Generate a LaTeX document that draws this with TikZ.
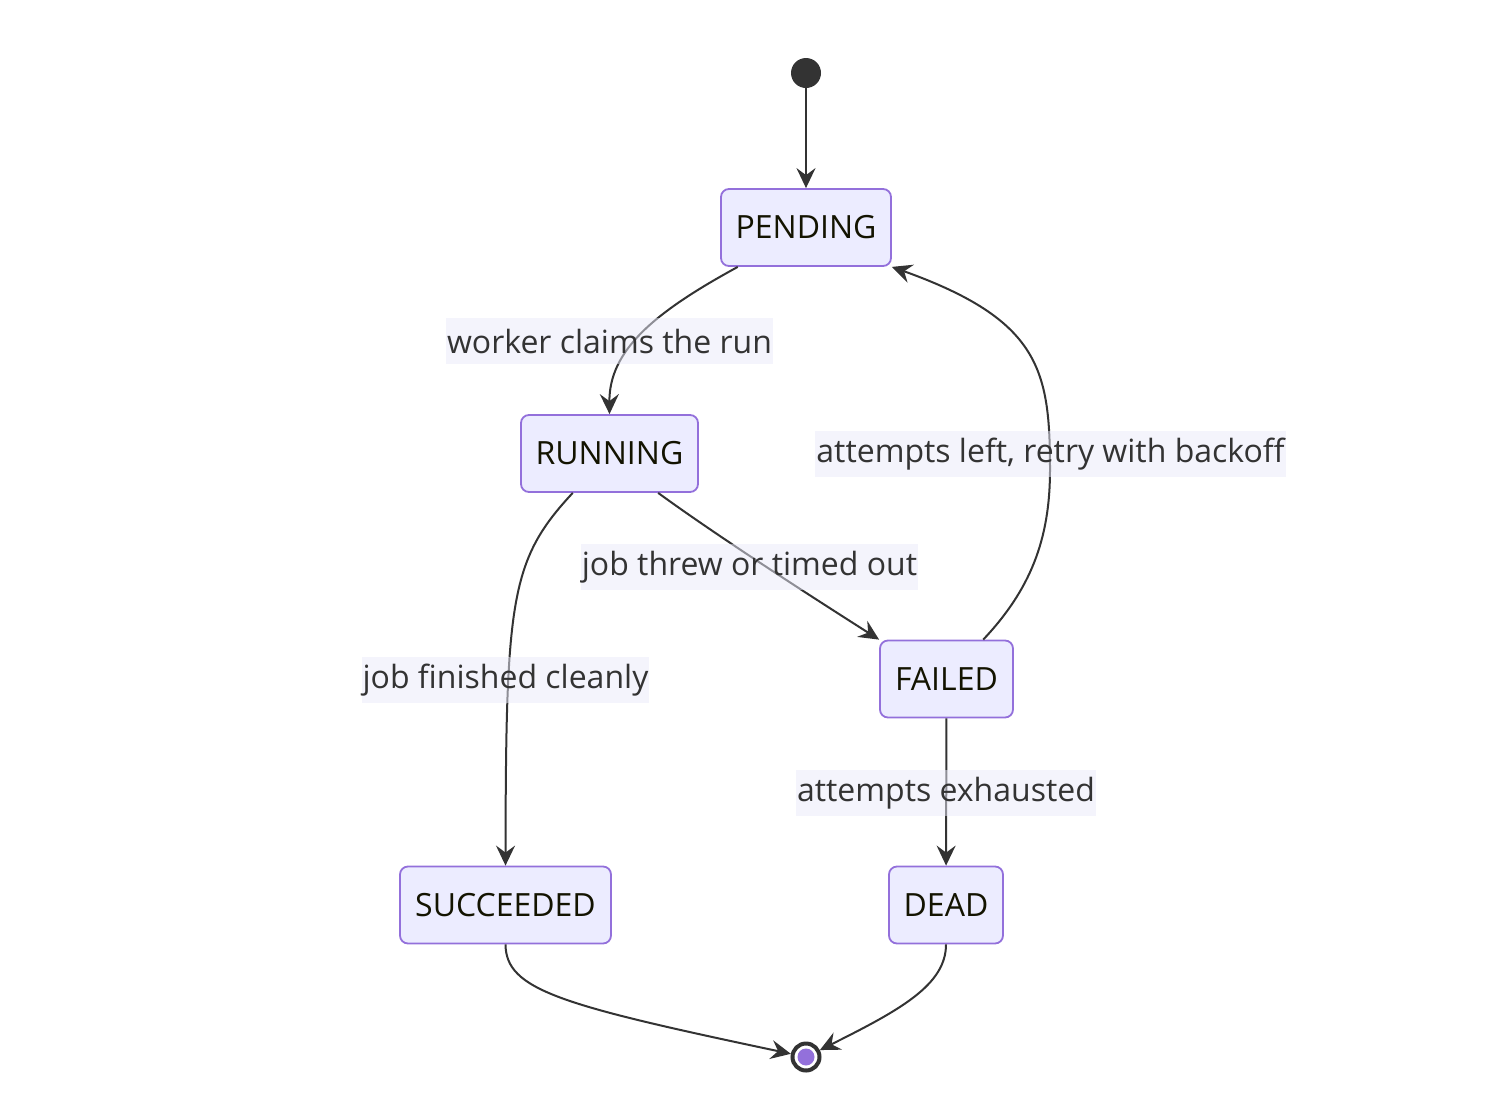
\documentclass[tikz,border=0pt]{standalone}
\usepackage{fontspec}
\setmainfont{Open Sans}
\usetikzlibrary{arrows.meta}
\definecolor{boxfill}{HTML}{ECECFF}
\definecolor{boxline}{HTML}{9370DB}
\definecolor{edgecol}{HTML}{333333}
\definecolor{labelbg}{HTML}{E9E9F9}
\definecolor{statetext}{HTML}{131300}
\begin{document}
\begin{tikzpicture}[x=0.5pt, y=-0.5pt]
    \tikzstyle{state}=[draw=boxline, fill=boxfill, line width=0.9pt, rounded corners=4pt, minimum height=38.5pt, inner xsep=7pt, text=statetext, font=\fontsize{16}{19}\selectfont];
    \tikzstyle{edgelabel}=[fill=labelbg, fill opacity=0.5, text opacity=1, text=edgecol, minimum height=23pt, inner xsep=0.5pt, font=\fontsize{16}{19}\selectfont];
    \tikzstyle{trans}=[draw=edgecol, line width=1pt, -{Stealth[length=10pt, width=9.5pt, inset=3.5pt]}];
    \useasboundingbox (0,0) rectangle (1490,1110);
    % states
    \node[circle, fill=edgecol, minimum size=15pt, inner sep=0pt] (start) at (806,73) {};
    \node[state, minimum width=85pt] (pending) at (806,227.5) {PENDING};
    \node[state, minimum width=88.5pt] (running) at (609.5,453.5) {RUNNING};
    \node[state, minimum width=66.5pt] (failed) at (946.5,679) {FAILED};
    \node[state, minimum width=105.5pt] (succeeded) at (505.5,905) {SUCCEEDED};
    \node[state, minimum width=57pt] (dead) at (946,905) {DEAD};
    \node[circle, draw=edgecol, line width=2pt, fill=white, minimum size=13.5pt, inner sep=0pt] (finish) at (806,1057) {};
    \node[circle, fill=boxline, minimum size=8.5pt, inner sep=0pt] (finishdot) at (finish) {};
    % transitions
    \draw[trans] (start) -- (pending);
    \draw[trans] (pending.210) .. controls (655,312) and (609,350) .. (running.north);
    \draw[trans] (running.227) .. controls (510,560) and (506,600) .. (succeeded.north);
    \draw[trans] (running.-39) .. controls (720,538) and (820,602) .. (failed.north west);
    \draw[trans] (failed.47) .. controls (1030,590) and (1050,540) .. (1050,470)
        .. controls (1050,370) and (1040,320) .. (pending.south east);
    \draw[trans] (failed) -- (dead);
    \draw[trans] (succeeded.south) .. controls (506,990) and (560,1005) .. (finish);
    \draw[trans] (dead.south) .. controls (946,985) and (900,1010) .. (finish);
    % labels
    \node[edgelabel] (lclaim) at (609.5,341) {worker claims the run};
    \node[edgelabel] (lretry) at (1050.5,454) {attempts left, retry with backoff};
    \node[edgelabel] (lthrew) at (749.5,567) {job threw or timed out};
    \node[edgelabel] (lclean) at (505.5,680) {job finished cleanly};
    \node[edgelabel] (lexhaust) at (946,793) {attempts exhausted};
\end{tikzpicture}
\end{document}
